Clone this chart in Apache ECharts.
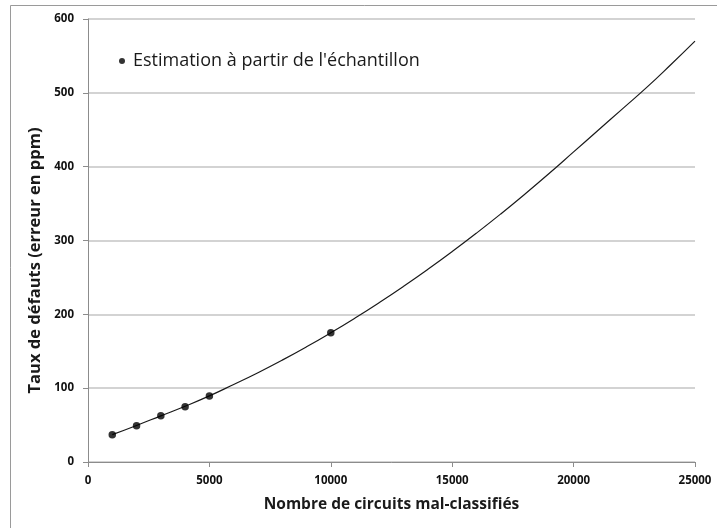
<!DOCTYPE html>
<html>
<head>
<meta charset="utf-8">
<script src="https://cdn.jsdelivr.net/npm/echarts@6/dist/echarts.min.js"></script>
<style>
html,body{margin:0;padding:0;background:#fff;}
#c{width:717px;height:528px;}
</style>
</head>
<body>
<div id="c"></div>
<script>
// Sample estimates (scatter)
const sampleX = [1000, 2000, 3000, 4000, 5000, 10000];
const sampleY = [37, 49, 62.7, 75, 89.4, 175];
// Fitted curve
const curveX = [1000,2000,3000,4000,5000,6000,7000,8000,9000,10000,11000,12000,13000,14000,15000,16000,17000,18000,19000,20000,21000,22000,23000,24000,25000];
const curveY = [37,49.5,62.5,75.5,89.5,105,121,138,156,175,195,216,238,261,285,310,336,363,391,420,449,478,507,538,570];
const xTicks = [0,5000,10000,15000,20000,25000];
const yTicks = [0,100,200,300,400,500,600];
const legendName = "Estimation à partir de l'échantillon";
const xTitle = "Nombre de circuits mal-classifiés";
const yTitle = "Taux de défauts (erreur en ppm)";

const FONT = 'Open Sans';
const chart = echarts.init(document.getElementById('c'), null, {renderer:'canvas'});
chart.setOption({
  animation:false,
  backgroundColor:'#fff',
  graphic:[{type:'rect', shape:{x:10.5,y:5.5,width:720,height:540}, style:{fill:'none', stroke:'#9a9a9a', lineWidth:1}, silent:true, z:-1}],
  grid:{left:88, top:19, right:22, bottom:66},
  legend:{
    data:[{name:legendName, icon:'circle'}],
    left:114, top:47, itemWidth:6, itemHeight:6, itemGap:6,
    textStyle:{fontFamily:FONT, fontSize:18, color:'#1a1a1a', padding:[0,0,0,3]}
  },
  xAxis:{
    type:'value', min:xTicks[0], max:xTicks[xTicks.length-1], interval:5000,
    name:xTitle, nameLocation:'middle', nameGap:35,
    nameTextStyle:{fontFamily:FONT, fontSize:15.5, fontWeight:'bold', color:'#1a1a1a'},
    axisLine:{show:true, lineStyle:{color:'#8c8c8c', width:1}},
    axisTick:{show:true, length:5, lineStyle:{color:'#8c8c8c'}},
    axisLabel:{fontFamily:FONT, fontSize:11.5, fontWeight:'bold', color:'#111', margin:13, formatter:v=>String(v)},
    splitLine:{show:false}
  },
  yAxis:{
    type:'value', min:yTicks[0], max:yTicks[yTicks.length-1], interval:100,
    name:yTitle, nameLocation:'middle', nameGap:41, nameRotate:90,
    nameTextStyle:{fontFamily:FONT, fontSize:16.5, fontWeight:'bold', color:'#1a1a1a', padding:[0,40,0,0]},
    axisLine:{show:true, lineStyle:{color:'#8c8c8c', width:1}},
    axisTick:{show:true, length:5, lineStyle:{color:'#8c8c8c'}},
    axisLabel:{fontFamily:FONT, fontSize:11.5, fontWeight:'bold', color:'#111', margin:14, formatter:v=>String(v)},
    splitLine:{show:true, lineStyle:{color:'#c4c4c4', width:1.5}}
  },
  series:[
    {
      name:'curve', type:'line', data:curveX.map((x,i)=>[x,curveY[i]]),
      smooth:true, showSymbol:false, symbol:'none',
      lineStyle:{color:'#1a1a1a', width:1.2}, z:2
    },
    {
      name:legendName, type:'scatter', data:sampleX.map((x,i)=>[x,sampleY[i]]),
      symbol:'circle', symbolSize:7.5, itemStyle:{color:'#000'}, z:3
    }
  ]
});
</script>
</body>
</html>
